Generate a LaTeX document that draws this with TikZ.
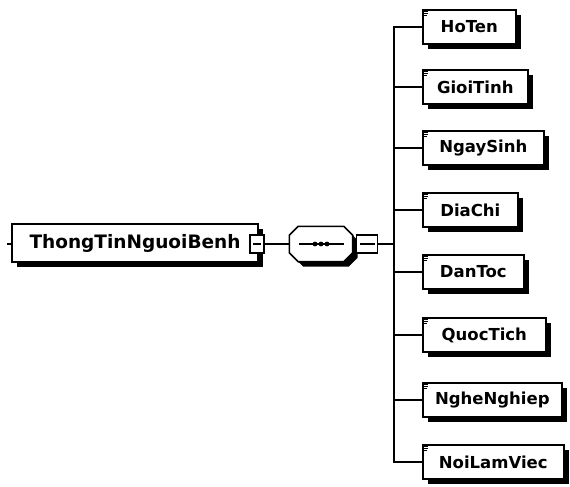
\documentclass[tikz,border=0pt]{standalone}
\usepackage{fontspec}
\setmainfont{DejaVu Sans}
\usetikzlibrary{shadows}
\begin{document}
\begin{tikzpicture}[x=1pt,y=-1pt,
  shadowed/.style={drop shadow={shadow xshift=5pt,shadow yshift=-5pt,fill=black,opacity=1}},
  elem/.style={draw,line width=1.6pt,fill=white,shadowed,minimum height=34pt,
    anchor=west,inner sep=0pt,font=\bfseries\fontsize{16.5}{16.5}\selectfont},
  minusbox/.style={draw,line width=1.4pt,fill=white,minimum width=14pt,minimum height=18pt,inner sep=0pt,
    path picture={\draw[line width=1.4pt] ([xshift=3pt]path picture bounding box.west) -- ([xshift=-3pt]path picture bounding box.east);}},
  wire/.style={line width=1.5pt},
  elemicon/.style={line width=0.6pt}]
\useasboundingbox (0,0) rectangle (570,487);

% root element
\node[elem,anchor=center,minimum width=246pt,minimum height=38pt,font=\bfseries\fontsize{18.5}{18.5}\selectfont]
  (root) at (135,243) {ThongTinNguoiBenh};
\node[minusbox] (rootminus) at (257,244) {};
\coordinate (roottick) at (7,244);
\draw[wire] (roottick) -- (root.west |- roottick);

% sequence compositor: octagon drawn around an empty named node
\node[minimum width=63pt,minimum height=35pt,inner sep=0pt] (seq) at (321,244) {};
\def\octagon#1{(#1.west) -- ([yshift=-9pt]#1.north west) -- ([xshift=9pt]#1.north west)
  -- ([xshift=-9pt]#1.north east) -- ([yshift=-9pt]#1.north east) -- ([yshift=9pt]#1.south east)
  -- ([xshift=-9pt]#1.south east) -- ([xshift=9pt]#1.south west) -- ([yshift=9pt]#1.south west) -- cycle}
\fill[black,transform canvas={shift={(5pt,-5pt)}}] \octagon{seq};
\draw[line width=1.6pt,fill=white] \octagon{seq};
\coordinate (seqL) at (299,244);
\coordinate (seqR) at (344,244);
\draw[line width=1.2pt] (seqL) -- (seqR);
\foreach \dx in {-6,0,6} \fill ([xshift=\dx pt]seq.center) circle (2.4pt);
\node[minusbox,minimum width=21pt] (seqminus) at (367,244) {};

\coordinate (bus) at (394,244);
\draw[wire] (rootminus.east) -- (seq.west);
\draw[wire] (seq.east) -- (seqminus.west);
\draw[wire] (seqminus.east) -- (bus);

% child elements
\foreach \name/\yy/\ww in {HoTen/27/93, GioiTinh/87/105, NgaySinh/148/121, DiaChi/210/95,
    DanToc/272/101, QuocTich/335/123, NgheNghiep/400/139, NoiLamViec/462/141} {
  \node[elem,minimum width=\ww pt] (\name) at (422,\yy) {\name};
  \draw[wire] (bus) |- (\name.west);
  \draw[elemicon] ([xshift=2pt,yshift=-2pt]\name.north west) -- ++(4,0)
                  ([xshift=2pt,yshift=-4pt]\name.north west) -- ++(4,0)
                  ([xshift=2pt,yshift=-6pt]\name.north west) -- ++(3,0);
}
\end{tikzpicture}
\end{document}
